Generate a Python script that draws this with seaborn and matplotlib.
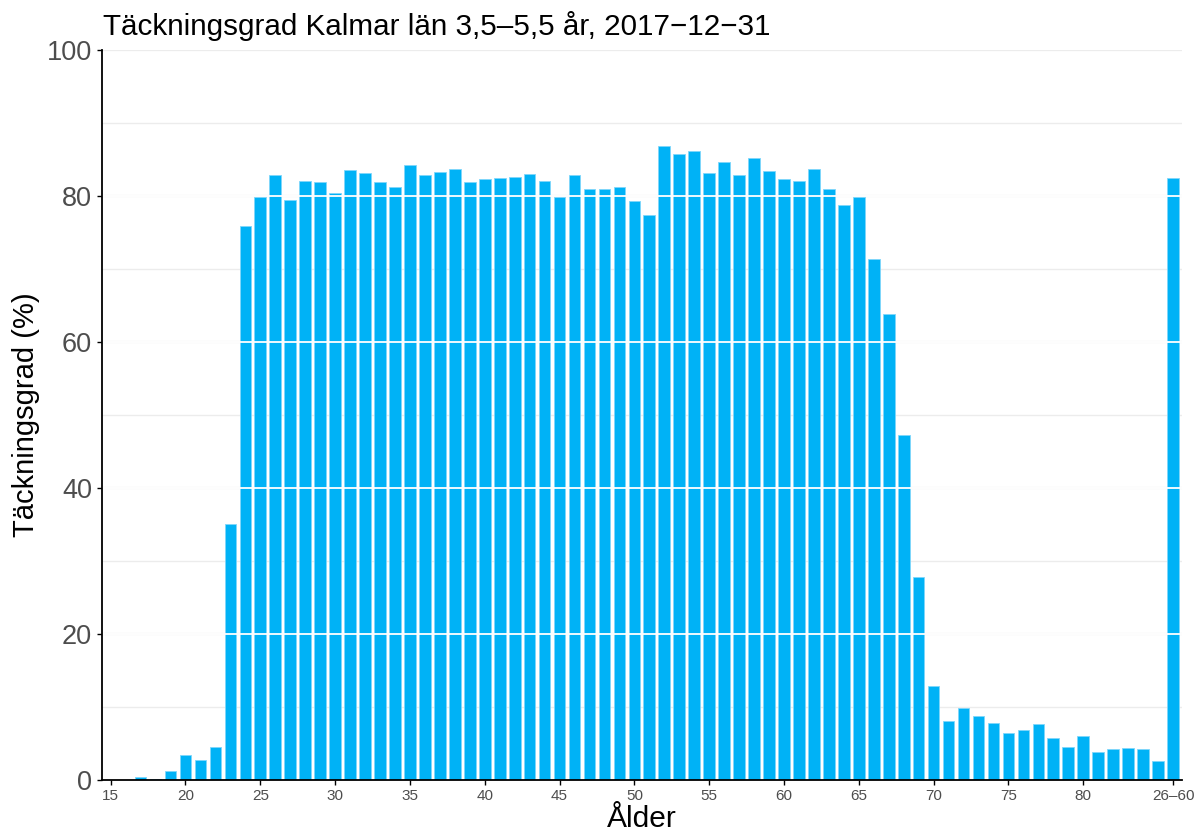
import matplotlib
matplotlib.use("Agg")
import matplotlib.pyplot as plt
import seaborn as sns
import pandas as pd

ages = [str(a) for a in range(15, 86)] + ["26–60"]
values = [0, 0, 0.4, 0.2, 1.2, 3.4, 2.8, 4.5, 35.1, 75.9,
          79.8, 82.9, 79.5, 82.1, 81.9, 80.4, 83.6, 83.2, 81.9, 81.2,
          84.2, 82.9, 83.3, 83.7, 81.9, 82.3, 82.5, 82.6, 83.0, 82.0,
          79.9, 82.9, 81.0, 80.9, 81.2, 79.3, 77.4, 86.8, 85.8, 86.2,
          83.2, 84.6, 82.9, 85.2, 83.4, 82.3, 82.0, 83.7, 80.9, 78.8,
          79.9, 71.4, 63.9, 47.3, 27.8, 12.9, 8.1, 9.8, 8.8, 7.8,
          6.5, 6.9, 7.7, 5.8, 4.5, 6.0, 3.9, 4.2, 4.4, 4.2,
          2.6, 82.5]
tick_labels = ["15", "20", "25", "30", "35", "40", "45", "50", "55", "60",
               "65", "70", "75", "80", "26–60"]
title = "Täckningsgrad Kalmar län 3,5–5,5 år, 2017−12−31"

df = pd.DataFrame({"Ålder": ages, "Täckningsgrad": values})

sns.set_style("white")
plt.rcParams["font.family"] = ["Liberation Sans", "DejaVu Sans"]

W, H = 1201, 835
fig = plt.figure(figsize=(W / 100, H / 100), dpi=100)
ax = fig.add_axes([102 / W, 1 - 780 / H, (1182 - 102) / W, (780 - 50) / H])

# background grid
for y in [10, 30, 50, 70, 90]:
    ax.axhline(y, color="#ececec", lw=1.0, zorder=0)
for y in [20, 40, 60, 80, 100]:
    ax.axhline(y, color="#ececec", lw=1.6, zorder=0)

sns.barplot(data=df, x="Ålder", y="Täckningsgrad", order=ages, color="#00B2F6",
            saturation=1, width=0.78, edgecolor="#7fd6fb", linewidth=0.6,
            ax=ax, zorder=2)

# white major lines crossing bars
for y in [20, 40, 60, 80]:
    ax.axhline(y, color="white", lw=1.3, zorder=3)

ax.set_ylim(0, 100)
ax.set_xlim(-0.58, 71.6)
ax.set_yticks([0, 20, 40, 60, 80, 100])
ax.set_yticklabels(["0", "20", "40", "60", "80", "100"])
tick_pos = [ages.index(t) for t in tick_labels]
ax.set_xticks(tick_pos)
ax.set_xticklabels(tick_labels)

ax.tick_params(axis="y", length=3.6, width=1.0, color="black", pad=3.5,
               labelsize=19.5, labelcolor="#4d4d4d", left=True)
ax.tick_params(axis="x", length=3.6, width=1.0, color="black", pad=3,
               labelsize=11, labelcolor="#4d4d4d", bottom=True)

for s in ["top", "right"]:
    ax.spines[s].set_visible(False)
for s in ["left", "bottom"]:
    ax.spines[s].set_color("black")
    ax.spines[s].set_linewidth(1.3)
    ax.spines[s].set_zorder(5)

ax.set_xlabel("Ålder", fontsize=21.5, color="black")
ax.set_ylabel("Täckningsgrad (%)", fontsize=21, color="black")
ax.xaxis.set_label_coords(0.5, -(819 - 780) / 730)
ax.yaxis.set_label_coords(-(102 - 26) / 1080, 0.5)
ax.xaxis.label.set_va("center")
ax.yaxis.label.set_va("center")

fig.text(103 / W, 1 - 35 / H, title, fontsize=21.3, color="black",
         ha="left", va="baseline")

fig.savefig("out.png", dpi=100)
